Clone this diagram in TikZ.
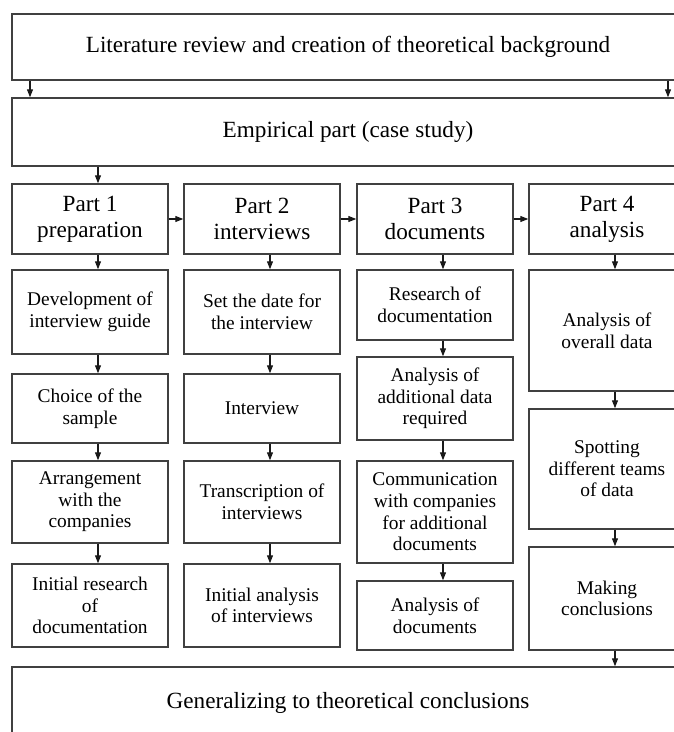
\documentclass[tikz,border=0pt]{standalone}
\usepackage{fontspec}
\setmainfont{Liberation Serif}
\usetikzlibrary{arrows.meta}
\begin{document}
\begin{tikzpicture}[x=1pt,y=-1pt,
  box/.style={draw=black!75, line width=1.4pt, fill=white, align=center, inner sep=2pt, anchor=center},
  bigtext/.style={font=\fontsize{23.2}{26}\selectfont},
  smalltext/.style={font=\fontsize{19.4}{21.6}\selectfont},
  arr/.style={-{Triangle[length=8pt,width=6pt]}, line width=1.1pt, draw=black!90}]
\useasboundingbox (0,0) rectangle (674,732);
\clip (0,0) rectangle (674,732);
\fill[white] (0,0) rectangle (674,732);
% column arrow coordinates
\coordinate (cL) at (30,0);
\coordinate (cR) at (668,0);
\coordinate (c1) at (98,0);
\coordinate (c2) at (270,0);
\coordinate (c3) at (443,0);
\coordinate (c4) at (615,0);
% wide boxes
\node[box,bigtext,minimum width=672pt,minimum height=66pt] (lit) at (348,47) {Literature review and creation of theoretical background};
\node[box,bigtext,minimum width=672pt,minimum height=68pt] (emp) at (348,132) {Empirical part (case study)};
\node[box,bigtext,minimum width=672pt,minimum height=72pt] (gen) at (348,703) {Generalizing to theoretical conclusions};
% part boxes
\node[box,bigtext,minimum width=156pt,minimum height=70pt] (p1) at (90,219) {Part 1\\preparation};
\node[box,bigtext,minimum width=156pt,minimum height=70pt] (p2) at (262,219) {Part 2\\interviews};
\node[box,bigtext,minimum width=156pt,minimum height=70pt] (p3) at (435,219) {Part 3\\documents};
\node[box,bigtext,minimum width=156pt,minimum height=70pt] (p4) at (607,219) {Part 4\\analysis};
% column 1
\node[box,smalltext,minimum width=156pt,minimum height=84pt] (a1) at (90,312) {Development of\\interview guide};
\node[box,smalltext,minimum width=156pt,minimum height=69pt] (a2) at (90,408.5) {Choice of the\\sample};
\node[box,smalltext,minimum width=156pt,minimum height=82pt] (a3) at (90,502) {Arrangement\\with the\\companies};
\node[box,smalltext,minimum width=156pt,minimum height=83pt] (a4) at (90,605.5) {Initial research\\of\\documentation};
% column 2
\node[box,smalltext,minimum width=156pt,minimum height=84pt] (b1) at (262,312) {Set the date for\\the interview};
\node[box,smalltext,minimum width=156pt,minimum height=69pt] (b2) at (262,408.5) {Interview};
\node[box,smalltext,minimum width=156pt,minimum height=82pt] (b3) at (262,502) {Transcription of\\interviews};
\node[box,smalltext,minimum width=156pt,minimum height=83pt] (b4) at (262,605.5) {Initial analysis\\of interviews};
% column 3
\node[box,smalltext,minimum width=156pt,minimum height=70pt] (d1) at (435,305) {Research of\\documentation};
\node[box,smalltext,minimum width=156pt,minimum height=83pt] (d2) at (435,398.5) {Analysis of\\additional data\\required};
\node[box,smalltext,minimum width=156pt,minimum height=102pt] (d3) at (435,512) {Communication\\with companies\\for additional\\documents};
\node[box,smalltext,minimum width=156pt,minimum height=69pt] (d4) at (435,615.5) {Analysis of\\documents};
% column 4
\node[box,smalltext,minimum width=156pt,minimum height=121pt] (e1) at (607,330.5) {Analysis of\\overall data};
\node[box,smalltext,minimum width=156pt,minimum height=120pt] (e2) at (607,469) {Spotting\\different teams\\of data};
\node[box,smalltext,minimum width=156pt,minimum height=103pt] (e3) at (607,598.5) {Making\\conclusions};
% arrows
\draw[arr] (lit.south -| cL) -- (emp.north -| cL);
\draw[arr] (lit.south -| cR) -- (emp.north -| cR);
\draw[arr] (emp.south -| c1) -- (p1.north -| c1);
\draw[arr] (p1.east) -- (p2.west);
\draw[arr] (p2.east) -- (p3.west);
\draw[arr] (p3.east) -- (p4.west);
\draw[arr] (p1.south -| c1) -- (a1.north -| c1);
\draw[arr] (a1.south -| c1) -- (a2.north -| c1);
\draw[arr] (a2.south -| c1) -- (a3.north -| c1);
\draw[arr] (a3.south -| c1) -- (a4.north -| c1);
\draw[arr] (p2.south -| c2) -- (b1.north -| c2);
\draw[arr] (b1.south -| c2) -- (b2.north -| c2);
\draw[arr] (b2.south -| c2) -- (b3.north -| c2);
\draw[arr] (b3.south -| c2) -- (b4.north -| c2);
\draw[arr] (p3.south -| c3) -- (d1.north -| c3);
\draw[arr] (d1.south -| c3) -- (d2.north -| c3);
\draw[arr] (d2.south -| c3) -- (d3.north -| c3);
\draw[arr] (d3.south -| c3) -- (d4.north -| c3);
\draw[arr] (p4.south -| c4) -- (e1.north -| c4);
\draw[arr] (e1.south -| c4) -- (e2.north -| c4);
\draw[arr] (e2.south -| c4) -- (e3.north -| c4);
\draw[arr] (e3.south -| c4) -- (gen.north -| c4);
\end{tikzpicture}
\end{document}
